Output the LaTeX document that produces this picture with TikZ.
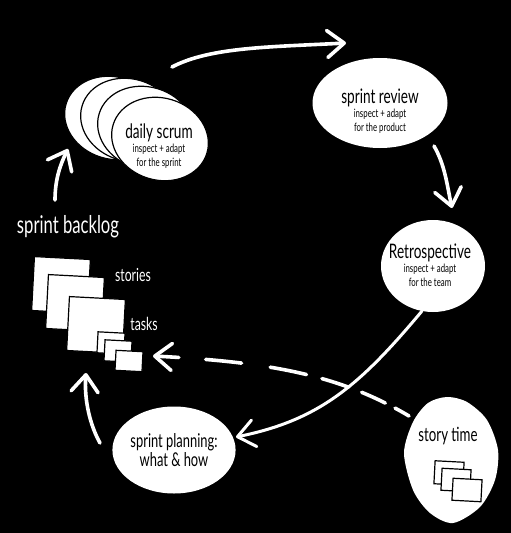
\documentclass[tikz,border=0pt]{standalone}
\usepackage{fontspec}
\usepackage{xcolor}
\usetikzlibrary{arrows.meta,calc,positioning,shapes.geometric}
\setmainfont[FakeStretch=0.68]{Lato}
\definecolor{scBoard}{RGB}{0,0,0}
\definecolor{scPaper}{RGB}{255,255,255}
\newcommand{\scrumsize}[1]{\fontsize{#1}{#1}\selectfont}
\newcommand{\blobtext}[3]{%
  {\scrumsize{20}#1}\\[2pt]
  {\scrumsize{11.5}#2}\\[1.5pt]
  {\scrumsize{11.5}#3}%
}
\tikzset{
  blob/.style={ellipse,fill=scPaper,inner sep=0pt},
  backblob/.style={blob,draw=scBoard,line width=1.2pt,minimum width=98pt,minimum height=82pt,rotate=-17},
  blobtitle/.style={align=center,text=scBoard,inner sep=0pt},
  chalk/.style={text=scPaper,inner sep=0pt},
  card/.style={rectangle,fill=scPaper,draw=scBoard,line width=1.2pt,inner sep=0pt,rotate=-3},
  flow/.style={draw=scPaper,line width=3.6pt,line cap=round,
    -{Straight Barb[round,length=17pt,width=27pt]}},
}
\begin{document}
\begin{tikzpicture}[x=1pt,y=-1pt]
  \useasboundingbox[fill=scBoard] (0,0) rectangle (511,533);
  % the four stacked scrums
  \node[backblob] (scrumA) at (113,118) {};
  \node[backblob] (scrumB) at (129,120) {};
  \node[backblob] (scrumC) at (146,128) {};
  \node[backblob] (scrum) at (160,139) {};
  \node[blobtitle] (scrumtext) at (159,146) {\blobtext{daily scrum}{inspect + adapt}{for the sprint}};
  % blobs round the loop
  \node[blob,minimum width=135pt,minimum height=90pt] (review) at (380,103) {};
  \node[blobtitle] (reviewtext) at (380,111) {\blobtext{sprint review}{inspect + adapt}{for the product}};
  \node[blob,minimum width=104pt,minimum height=92pt] (retro) at (433,266) {};
  \node[blobtitle] (retrotext) at (430,265) {\blobtext{Retrospective}{inspect + adapt}{for the team}};
  \node[blob,align=center,text=scBoard,minimum width=117pt,minimum height=87pt] (planning) at (174,450)
    {\scrumsize{19}sprint planning:\\[1pt]\scrumsize{19}what \& how};
  % story time is egg shaped
  \fill[scPaper] plot[smooth cycle] coordinates {(447,397) (467,402) (487,420) (498,450) (495,480) (480,507)
    (453,523) (430,513) (413,490) (404,453) (413,422) (428,403)};
  \node[blobtitle,font=\scrumsize{19.5}] (story) at (448,436) {story time};
  \node[card,minimum width=29pt,minimum height=23pt] (mini1) at (449,473) {};
  \node[card,minimum width=29pt,minimum height=22pt] (mini2) at (456,480) {};
  \node[card,minimum width=29pt,minimum height=22pt] (mini3) at (467,490) {};
  % backlog
  \node[chalk,font=\scrumsize{24.5}] (backlog) at (68,227) {sprint backlog};
  \node[card,minimum width=56pt,minimum height=54pt] (story1) at (61,285) {};
  \node[card,minimum width=56pt,minimum height=54pt] (story2) at (75,303) {};
  \node[card,minimum width=56pt,minimum height=54pt] (story3) at (96,325) {};
  \node[card,minimum width=27pt,minimum height=21pt] (task1) at (111,343) {};
  \node[card,minimum width=27pt,minimum height=21pt] (task2) at (118,351) {};
  \node[card,minimum width=27pt,minimum height=20pt] (task3) at (129,361) {};
  \node[chalk,font=\scrumsize{18}] (stories) at (133,275) {stories};
  \node[chalk,font=\scrumsize{18}] (tasks) at (144,324) {tasks};
  % loop arrows
  \draw[flow] ([shift={(43,-53)}]scrumB.center) .. controls (210,47) and (270,47) .. ([shift={(-34,-60)}]review.center);
  \draw[flow] ([shift={(54,43)}]review.center) .. controls (445,165) and (447,185) .. ([shift={(19,-58)}]retro.center);
  \draw[flow,line width=3pt] ([shift={(-11,45)}]retro.center) .. controls (360,385) and (320,420) .. ([shift={(62,-13)}]planning.center);
  \draw[flow] ([shift={(-74,-7)}]planning.center) .. controls (90,425) and (84,400) .. ([shift={(-10,48)}]story3.center);
  \draw[flow] ([shift={(-13,-27)}]backlog.center) .. controls (55,180) and (60,165) .. ([shift={(-45,31)}]scrumA.center);
  \draw[flow,dash pattern=on 16pt off 11pt on 26pt off 14pt on 28pt off 16pt on 37pt off 29pt on 36pt off 27pt on 70pt]
    ([shift={(-39,-20)}]story.center) .. controls (340,375) and (270,362) .. ([shift={(24,-5)}]task3.center);
\end{tikzpicture}
\end{document}
